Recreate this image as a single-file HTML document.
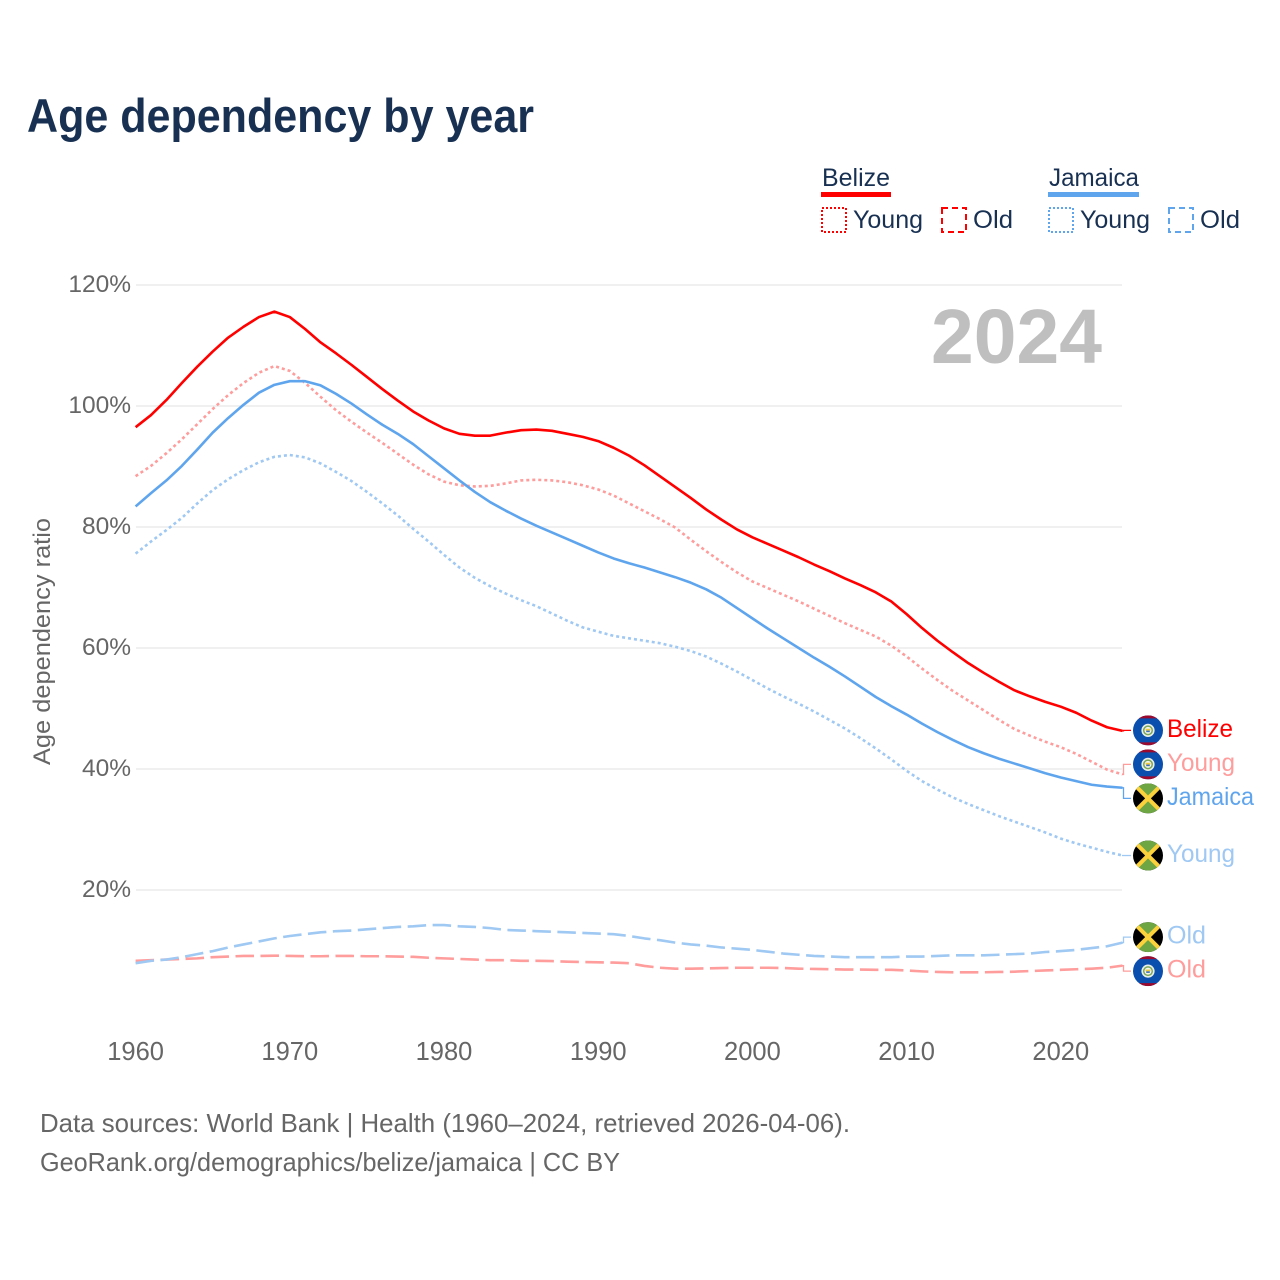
<!DOCTYPE html>
<html lang="en">
<head>
<meta charset="utf-8">
<title>Age dependency by year</title>
<style>
html,body{margin:0;padding:0;background:#fff;width:1280px;height:1280px;overflow:hidden}
svg{display:block}
text{font-family:"Liberation Sans",sans-serif}
</style>
</head>
<body>
<svg id="chart" xmlns="http://www.w3.org/2000/svg" width="1280" height="1280" viewBox="0 0 1280 1280">
  <defs>
    <clipPath id="flag-clip"><circle cx="0" cy="0" r="15"/></clipPath>
    <g id="flag-belize" clip-path="url(#flag-clip)">
      <rect x="-15" y="-15" width="30" height="30" fill="#0b4fae"/>
      <rect x="-15" y="-15" width="30" height="3" fill="#9c0a2e"/>
      <rect x="-15" y="12" width="30" height="3" fill="#9c0a2e"/>
      <circle r="6.6" fill="#e8efe8"/>
      <circle r="5" fill="#79a65a"/>
      <circle r="3.5" fill="#f4f4f0"/>
      <rect x="-2.4" y="-1.6" width="4.8" height="1.8" fill="#f0c93c"/>
      <rect x="-1.8" y="0.2" width="3.6" height="1.6" fill="#3d70b8"/>
    </g>
    <g id="flag-jamaica" clip-path="url(#flag-clip)">
      <rect x="-15" y="-15" width="30" height="30" fill="#000"/>
      <path d="M-15,-15 L15,-15 L0,0 Z M-15,15 L15,15 L0,0 Z" fill="#6fa644"/>
      <path d="M-15,-15 L15,15 M15,-15 L-15,15" stroke="#fcd23c" stroke-width="4" fill="none"/>
    </g>
  </defs>

  <text x="27" y="132" font-size="47" font-weight="700" fill="#183153" textLength="507" lengthAdjust="spacingAndGlyphs">Age dependency by year</text>

  <g>
    <g>
      <text x="822" y="186" font-size="25" fill="#183153" textLength="68" lengthAdjust="spacingAndGlyphs">Belize</text>
      <rect x="821" y="192" width="70" height="5" fill="#ff0000"/>
      <rect x="822" y="208" width="24" height="24" fill="none" stroke="#ff0000" stroke-width="2" stroke-dasharray="2 2"/>
      <text x="853" y="228" font-size="25" fill="#183153" textLength="70" lengthAdjust="spacingAndGlyphs">Young</text>
      <rect x="942" y="208" width="24" height="24" fill="none" stroke="#ff0000" stroke-width="2" stroke-dasharray="6 4"/>
      <text x="973" y="228" font-size="25" fill="#183153" textLength="40" lengthAdjust="spacingAndGlyphs">Old</text>
    </g>
    <g>
      <text x="1049" y="186" font-size="25" fill="#183153" textLength="90" lengthAdjust="spacingAndGlyphs">Jamaica</text>
      <rect x="1048" y="192" width="91" height="5" fill="#5fa5ee"/>
      <rect x="1049" y="208" width="24" height="24" fill="none" stroke="#5fa5ee" stroke-width="2" stroke-dasharray="2 2"/>
      <text x="1080" y="228" font-size="25" fill="#183153" textLength="70" lengthAdjust="spacingAndGlyphs">Young</text>
      <rect x="1169" y="208" width="24" height="24" fill="none" stroke="#5fa5ee" stroke-width="2" stroke-dasharray="6 4"/>
      <text x="1200" y="228" font-size="25" fill="#183153" textLength="40" lengthAdjust="spacingAndGlyphs">Old</text>
    </g>
  </g>

  <g id="grid"></g>
  <g id="y-ticks"></g>
  <g id="x-ticks"></g>

  <text transform="translate(50,641.5) rotate(-90)" text-anchor="middle" font-size="24.5" fill="#666666" textLength="247" lengthAdjust="spacingAndGlyphs">Age dependency ratio</text>

  <text x="931" y="363" font-size="77" font-weight="700" fill="#bfbfbf" textLength="171" lengthAdjust="spacingAndGlyphs">2024</text>

  <g id="series"></g>
  <g id="end-labels"></g>

  <text x="40" y="1132" font-size="26" fill="#666666" textLength="810" lengthAdjust="spacingAndGlyphs">Data sources: World Bank | Health (1960–2024, retrieved 2026-04-06).</text>
  <text x="40" y="1171" font-size="26" fill="#666666" textLength="580" lengthAdjust="spacingAndGlyphs">GeoRank.org/demographics/belize/jamaica | CC BY</text>
</svg>

<script>
const years = [
  1960,1961,1962,1963,1964,1965,1966,1967,1968,1969,
  1970,1971,1972,1973,1974,1975,1976,1977,1978,1979,
  1980,1981,1982,1983,1984,1985,1986,1987,1988,1989,
  1990,1991,1992,1993,1994,1995,1996,1997,1998,1999,
  2000,2001,2002,2003,2004,2005,2006,2007,2008,2009,
  2010,2011,2012,2013,2014,2015,2016,2017,2018,2019,
  2020,2021,2022,2023,2024
];
const belizeTotal = [
  96.5,98.5,101.0,103.8,106.5,109.0,111.3,113.1,114.7,115.6,
  114.7,112.7,110.5,108.7,106.8,104.8,102.8,100.9,99.1,97.6,
  96.3,95.4,95.1,95.1,95.6,96.0,96.1,95.9,95.4,94.9,
  94.2,93.1,91.8,90.2,88.4,86.6,84.8,82.9,81.2,79.6,
  78.3,77.2,76.1,75.0,73.8,72.7,71.5,70.4,69.2,67.7,
  65.6,63.3,61.2,59.3,57.5,55.9,54.4,53.0,52.0,51.1,
  50.3,49.3,48.0,46.9,46.3
];
const belizeYoung = [
  88.4,90.1,92.2,94.5,97.0,99.5,101.8,103.8,105.5,106.6,
  105.8,103.8,101.5,99.3,97.4,95.6,93.9,92.1,90.3,88.7,
  87.5,86.9,86.7,86.8,87.2,87.7,87.8,87.7,87.4,86.9,
  86.2,85.2,83.9,82.6,81.3,79.9,77.9,76.0,74.2,72.5,
  71.0,69.9,68.8,67.7,66.5,65.3,64.1,63.0,61.9,60.4,
  58.6,56.6,54.7,52.9,51.3,49.7,48.1,46.6,45.5,44.5,
  43.6,42.5,41.2,39.9,39.1
];
const belizeOld = [
  8.3,8.4,8.5,8.6,8.7,8.9,9.0,9.1,9.1,9.15,
  9.1,9.05,9.05,9.1,9.1,9.05,9.05,9.0,8.95,8.8,
  8.7,8.6,8.5,8.4,8.4,8.3,8.3,8.25,8.15,8.1,
  8.05,8.0,7.9,7.45,7.15,7.0,7.0,7.05,7.1,7.15,
  7.15,7.15,7.1,7.0,6.95,6.9,6.85,6.85,6.8,6.8,
  6.7,6.55,6.45,6.4,6.4,6.4,6.45,6.5,6.6,6.7,
  6.8,6.9,7.0,7.15,7.5
];
const jamaicaTotal = [
  83.4,85.6,87.7,90.1,92.8,95.6,98.0,100.2,102.2,103.5,
  104.1,104.1,103.4,102.0,100.4,98.6,96.9,95.4,93.7,91.7,
  89.7,87.7,85.8,84.1,82.7,81.4,80.2,79.1,78.0,76.9,
  75.8,74.8,74.0,73.3,72.5,71.7,70.8,69.7,68.3,66.6,
  64.9,63.2,61.6,60.0,58.4,56.9,55.3,53.6,51.9,50.4,
  49.0,47.5,46.1,44.8,43.6,42.6,41.7,40.9,40.1,39.3,
  38.6,38.0,37.4,37.1,36.9
];
const jamaicaYoung = [
  75.6,77.6,79.5,81.5,83.9,86.1,87.9,89.4,90.7,91.6,
  91.9,91.5,90.5,89.1,87.6,85.8,83.9,81.9,79.7,77.6,
  75.4,73.3,71.6,70.2,69.0,67.9,66.9,65.7,64.5,63.4,
  62.7,62.0,61.6,61.2,60.8,60.2,59.5,58.6,57.4,56.1,
  54.7,53.3,52.0,50.8,49.5,48.1,46.7,45.1,43.4,41.6,
  39.7,38.0,36.6,35.3,34.2,33.2,32.2,31.3,30.4,29.5,
  28.5,27.7,27.0,26.3,25.7
];
const jamaicaOld = [
  7.9,8.3,8.5,8.9,9.4,9.9,10.5,11.0,11.5,12.0,
  12.4,12.7,13.0,13.2,13.3,13.5,13.7,13.9,14.0,14.2,
  14.2,14.0,13.9,13.7,13.4,13.3,13.2,13.1,13.0,12.9,
  12.8,12.7,12.4,12.0,11.7,11.3,11.0,10.8,10.5,10.3,
  10.1,9.8,9.5,9.3,9.1,9.0,8.9,8.9,8.9,8.9,
  9.0,9.0,9.1,9.2,9.2,9.2,9.3,9.4,9.5,9.75,
  9.9,10.1,10.4,10.7,11.3
];
const yTickValues = [20,40,60,80,100,120];
const yTickLabels = ["20%","40%","60%","80%","100%","120%"];
const xTickValues = [1960,1970,1980,1990,2000,2010,2020];
const xTickLabels = ["1960","1970","1980","1990","2000","2010","2020"];

const SVG_NS = "http://www.w3.org/2000/svg";
const xScale = function (year) { return 135.6 + (year - 1960) * 15.42; };
const yScale = function (value) { return 1011 - value * 6.05; };
const make = function (tag, parent) {
  const el = document.createElementNS(SVG_NS, tag);
  parent.appendChild(el);
  return el;
};

const gridGroup = document.getElementById("grid");
const yTickGroup = document.getElementById("y-ticks");
yTickValues.forEach(function (value, i) {
  const line = make("line", gridGroup);
  
  
  line.setAttribute("x1", 136);
  line.setAttribute("x2", 1122);
  line.setAttribute("y1", yScale(value));
  line.setAttribute("y2", yScale(value));
  line.setAttribute("stroke", "#ececec");
  line.setAttribute("stroke-width", "1.4");
  const label = make("text", yTickGroup);
  
  
  label.setAttribute("x", 131);
  label.setAttribute("y", yScale(value) + 7);
  label.setAttribute("text-anchor", "end");
  label.setAttribute("font-size", "24.5");
  label.setAttribute("fill", "#666666");
  label.textContent = yTickLabels[i];
});

const xTickGroup = document.getElementById("x-ticks");
xTickValues.forEach(function (year, i) {
  const label = make("text", xTickGroup);
  
  
  label.setAttribute("x", xScale(year));
  label.setAttribute("y", 1060);
  label.setAttribute("text-anchor", "middle");
  label.setAttribute("font-size", "25.5");
  label.setAttribute("fill", "#666666");
  label.textContent = xTickLabels[i];
});

const seriesList = [
  { key: "belize-total", label: "Belize", values: belizeTotal, color: "#ff0000", dash: "", flag: "flag-belize", width: 66 },
  { key: "belize-young", label: "Young", values: belizeYoung, color: "#ff9c9c", dash: "3 3", flag: "flag-belize", width: 68 },
  { key: "belize-old", label: "Old", values: belizeOld, color: "#ff9c9c", dash: "18.5 6.5", flag: "flag-belize", width: 39 },
  { key: "jamaica-total", label: "Jamaica", values: jamaicaTotal, color: "#5fa5ee", dash: "", flag: "flag-jamaica", width: 87 },
  { key: "jamaica-young", label: "Young", values: jamaicaYoung, color: "#9fc8f3", dash: "3 3", flag: "flag-jamaica", width: 68 },
  { key: "jamaica-old", label: "Old", values: jamaicaOld, color: "#9fc8f3", dash: "18.5 6.5", flag: "flag-jamaica", width: 39 }
];

const seriesGroup = document.getElementById("series");
seriesList.forEach(function (s) {
  const pts = s.values.map(function (v, i) { return xScale(years[i]).toFixed(2) + "," + yScale(v).toFixed(2); });
  const line = make("polyline", seriesGroup);
  
  
  line.setAttribute("points", pts.join(" "));
  line.setAttribute("fill", "none");
  line.setAttribute("stroke", s.color);
  line.setAttribute("stroke-width", "2.6");
  line.setAttribute("stroke-linejoin", "round");
  if (s.dash) line.setAttribute("stroke-dasharray", s.dash);
});

/* Dodge end labels so that they stay at least one flag-row apart */
const ROW = 34;
const ordered = seriesList.map(function (s) {
  return { s: s, end: yScale(s.values[s.values.length - 1]) };
}).sort(function (a, b) { return a.end - b.end; });
let clusters = ordered.map(function (o) { return { items: [o], center: o.end }; });
let merged = true;
const clusterTop = function (c) { return c.center - (c.items.length - 1) * ROW / 2; };
const clusterBottom = function (c) { return c.center + (c.items.length - 1) * ROW / 2; };
while (merged) {
  merged = false;
  for (let i = 0; i < clusters.length - 1; i++) {
    if (clusterBottom(clusters[i]) + ROW > clusterTop(clusters[i + 1])) {
      const items = clusters[i].items.concat(clusters[i + 1].items);
      const center = items.reduce(function (t, o) { return t + o.end; }, 0) / items.length;
      clusters.splice(i, 2, { items: items, center: center });
      merged = true;
      break;
    }
  }
}

const endGroup = document.getElementById("end-labels");
clusters.forEach(function (c) {
  c.items.forEach(function (o, i) {
    const y = clusterTop(c) + i * ROW;
    const s = o.s;
    const leader = make("polyline", endGroup);
    
    
    leader.setAttribute("points", "1122," + o.end.toFixed(2) + " 1123.5," + o.end.toFixed(2) + " 1123.5," + y.toFixed(2) + " 1131," + y.toFixed(2));
    leader.setAttribute("fill", "none");
    leader.setAttribute("stroke", s.color);
    leader.setAttribute("stroke-width", "1.3");
    const flag = make("use", endGroup);
    
    
    flag.setAttribute("href", "#" + s.flag);
    flag.setAttribute("transform", "translate(1148," + y.toFixed(2) + ")");
    const text = make("text", endGroup);
    
    
    text.setAttribute("x", 1167);
    text.setAttribute("y", (y + 6.5).toFixed(2));
    text.setAttribute("font-size", "25");
    text.setAttribute("fill", s.color);
    text.setAttribute("textLength", s.width);
    text.setAttribute("lengthAdjust", "spacingAndGlyphs");
    text.textContent = s.label;
  });
});
</script>
</body>
</html>
